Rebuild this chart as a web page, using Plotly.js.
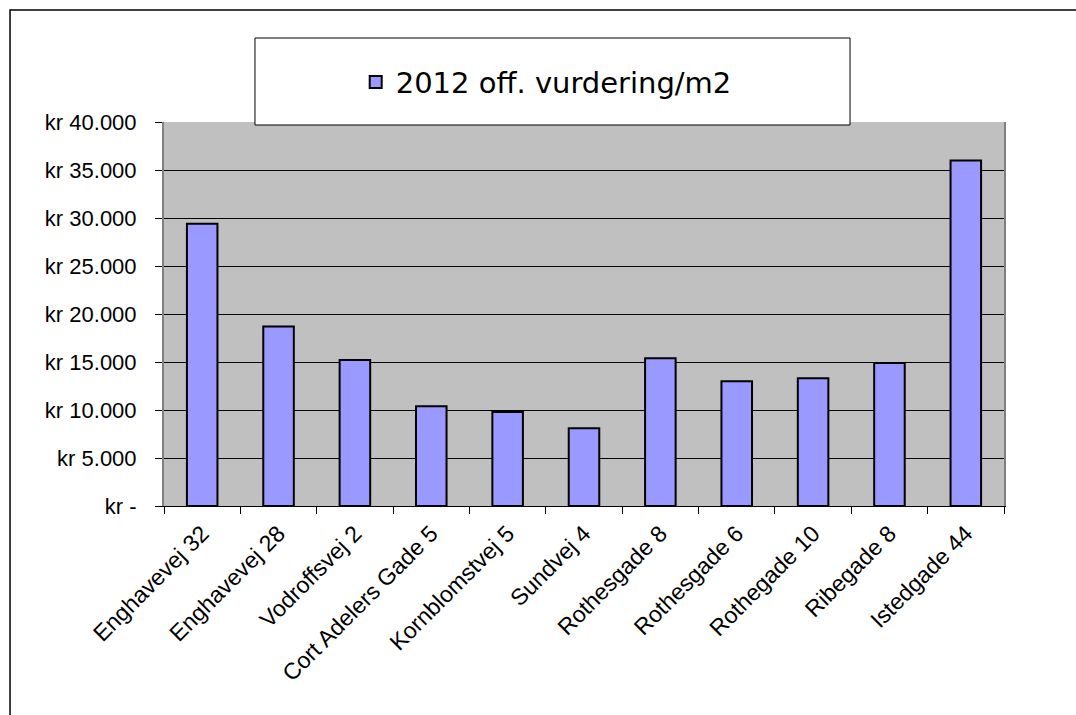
<!DOCTYPE html>
<html>
<head>
<meta charset="utf-8">
<script src="https://cdn.plot.ly/plotly-3.0.1.min.js"></script>
<style>
html,body{margin:0;padding:0;background:#fff;}
#chart{width:1076px;height:715px;}
</style>
</head>
<body>
<div id="chart"></div>
<script>
const categories = ["Enghavevej 32","Enghavevej 28","Vodroffsvej 2","Cort Adelers Gade 5","Kornblomstvej 5","Sundvej 4","Rothesgade 8","Rothesgade 6","Rothegade 10","Ribegade 8","Istedgade 44"];
const values = [29400, 18700, 15200, 10400, 9800, 8100, 15400, 13000, 13300, 14900, 36000];
const seriesName = "2012 off. vurdering/m2";
const yTickVals = [0, 5000, 10000, 15000, 20000, 25000, 30000, 35000, 40000];
const yTickText = ["kr -", "kr 5.000", "kr 10.000", "kr 15.000", "kr 20.000", "kr 25.000", "kr 30.000", "kr 35.000", "kr 40.000"];

const trace = {
  type: "bar",
  x: categories,
  y: values,
  name: seriesName,
  showlegend: true,
  marker: {color: "#9999FF", line: {color: "#000000", width: 2}},
  hoverinfo: "x+y"
};

const layout = {
  width: 1076, height: 715,
  margin: {l: 164, r: 72, t: 122, b: 209, pad: 0},
  paper_bgcolor: "#ffffff",
  plot_bgcolor: "#C0C0C0",
  bargap: 0.6,
  font: {family: "Liberation Sans, Arial, sans-serif", color: "#000"},
  xaxis: {
    type: "category",
    tickangle: -45,
    tickfont: {size: 23, family: "Liberation Sans, Arial, sans-serif", color: "#000"},
    showline: true, linecolor: "#000", linewidth: 1,
    ticks: "outside", tickson: "boundaries", ticklen: 7, tickcolor: "#000",
    ticklabelstandoff: 4,
    showgrid: false, zeroline: false, fixedrange: true
  },
  yaxis: {
    range: [0, 40000],
    tickvals: yTickVals, ticktext: yTickText,
    tickfont: {size: 22, family: "Liberation Sans, Arial, sans-serif", color: "#000"},
    showline: true, linecolor: "#808080", linewidth: 2, mirror: true,
    ticks: "outside", ticklen: 7, tickcolor: "#000",
    ticklabelstandoff: 14,
    showgrid: true, gridcolor: "#000", gridwidth: 1,
    zeroline: false, fixedrange: true
  },
  showlegend: true,
  legend: {
    x: 0.455, xanchor: "center",
    y: 1.104, yanchor: "middle",
    bgcolor: "rgba(0,0,0,0)", borderwidth: 0,
    itemwidth: 30,
    font: {size: 29, family: "DejaVu Sans, Verdana, sans-serif", color: "#000"}
  },
  shapes: [
    {type: "rect", xref: "paper", yref: "paper", x0: -0.1833, x1: 1.2, y0: -0.6, y1: 1.2917,
     line: {color: "#000", width: 1.5}, fillcolor: "rgba(0,0,0,0)", layer: "below"},
    {type: "rect", xref: "paper", yref: "paper", x0: 0.1083, x1: 0.8167, y0: 0.9922, y1: 1.21875,
     line: {color: "#000", width: 1}, fillcolor: "#ffffff", layer: "above"}
  ]
};

Plotly.newPlot("chart", [trace], layout, {displayModeBar: false, staticPlot: true});
</script>
</body>
</html>
